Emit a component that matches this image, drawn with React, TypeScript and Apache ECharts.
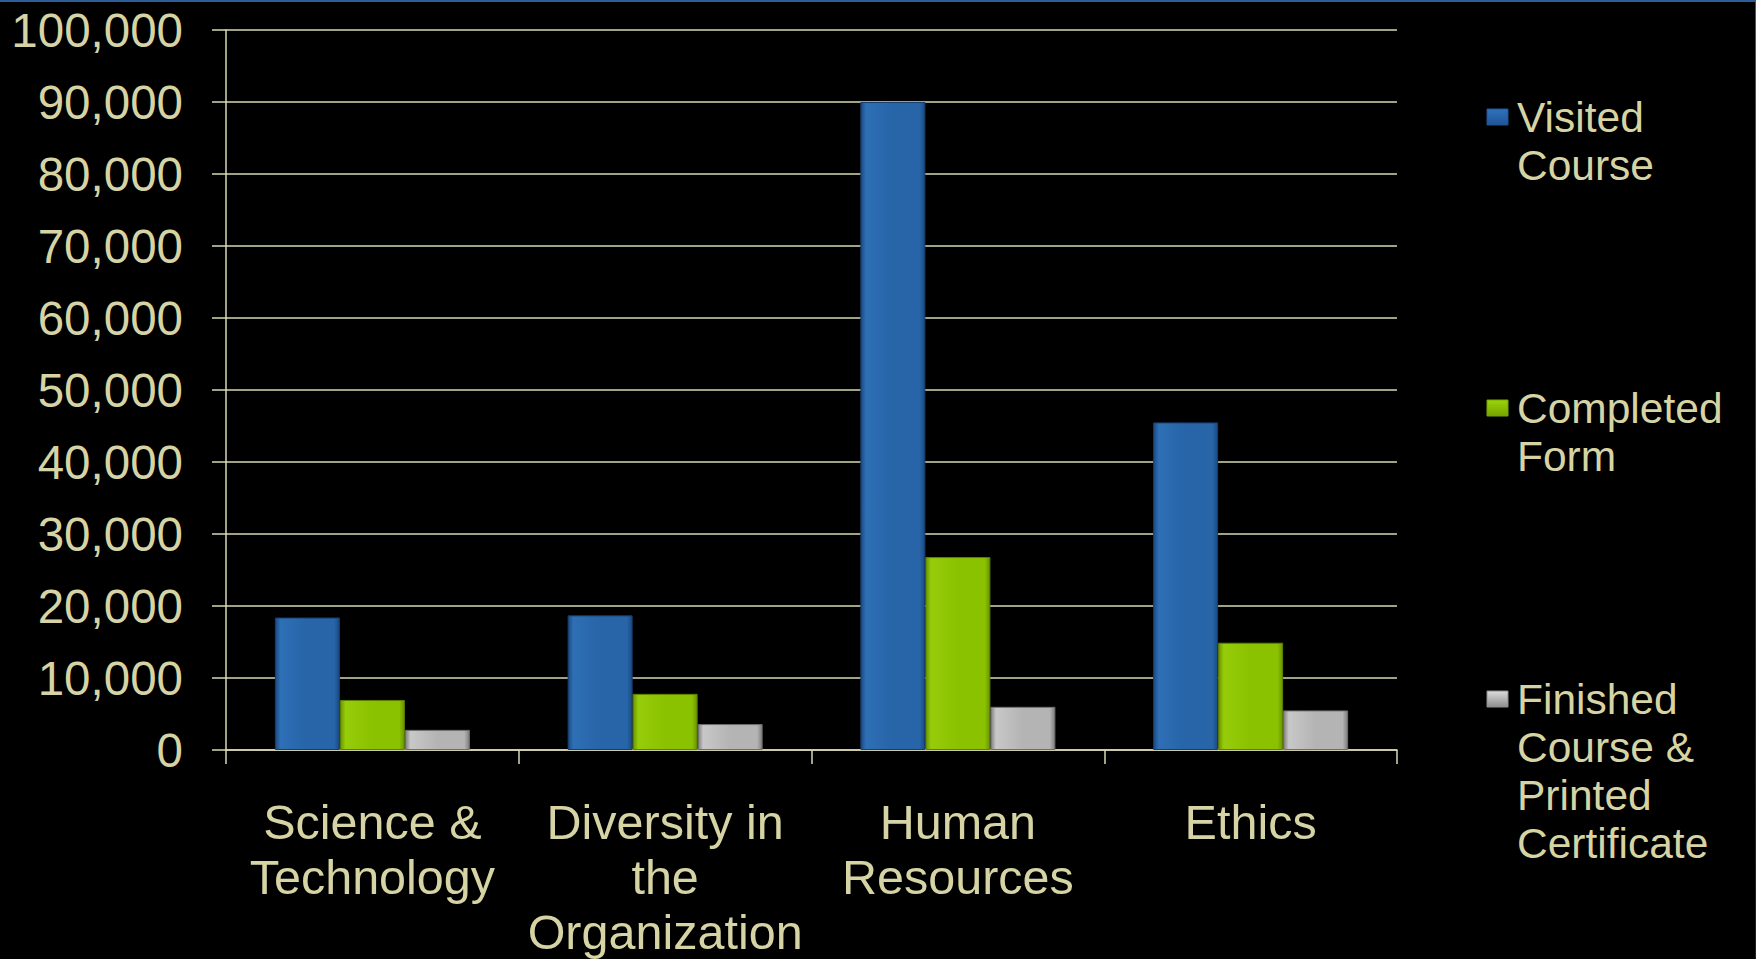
import React, { useEffect, useRef } from 'react';
import * as echarts from 'echarts';

const categories = ['Science &\nTechnology', 'Diversity in\nthe\nOrganization', 'Human\nResources', 'Ethics'];
const seriesNames = ['Visited Course', 'Completed Form', 'Finished Course & Printed Certificate'];
const legendLabels = ['Visited\nCourse', 'Completed\nForm', 'Finished\nCourse &\nPrinted\nCertificate'];
const visitedCourse = [18400, 18700, 90000, 45500];
const completedForm = [6950, 7800, 26800, 14900];
const finishedCourse = [2800, 3600, 6000, 5500];
const yMin = 0;
const yMax = 100000;
const yInterval = 10000;

const TEXT = '#d6d4a4';
const GRID = '#d9d8b4';
const FONT = '"Liberation Sans", Arial, sans-serif';

function bevel(edge: string, mid: string, light: string) {
  return new echarts.graphic.LinearGradient(0, 0, 1, 0, [
    { offset: 0, color: edge },
    { offset: 0.08, color: light },
    { offset: 0.5, color: mid },
    { offset: 0.92, color: mid },
    { offset: 1, color: edge },
  ]);
}

const colors = [
  bevel('#1b4a82', '#2764a8', '#2e6fb5'),
  bevel('#6a9400', '#8bc200', '#96cc0a'),
  bevel('#7e7e7e', '#b4b4b4', '#c8c8c8'),
];
const borders = ['#173f6e', '#5c8000', '#6e6e6e'];
const legendIcon = [
  ['#2f72bc', '#1f5596'],
  ['#9ad40a', '#76a400'],
  ['#dcdcdc', '#8e8e8e'],
];

export default function App() {
  const ref = useRef<HTMLDivElement>(null);
  useEffect(() => {
    document.body.style.margin = '0';
    document.body.style.background = '#000';
    const chart = echarts.init(ref.current!, null, { renderer: 'svg' });
    const LH = 48;
    const iconCenters = [117, 408, 699];
    const legendGraphics: any[] = [];
    seriesNames.forEach((name, i) => {
      legendGraphics.push({
        type: 'rect',
        x: 1487,
        y: iconCenters[i] - 8,
        shape: { width: 21, height: 16 },
        style: {
          fill: new echarts.graphic.LinearGradient(0, 0, 0, 1, [
            { offset: 0, color: legendIcon[i][0] },
            { offset: 1, color: legendIcon[i][1] },
          ]),
          stroke: legendIcon[i][1],
          lineWidth: 1,
        },
      });
      legendGraphics.push({
        type: 'text',
        x: 1517,
        y: iconCenters[i] - LH / 2,
        style: {
          text: legendLabels[i],
          fill: TEXT,
          fontFamily: FONT,
          fontSize: 42.5,
          lineHeight: LH,
          verticalAlign: 'top',
          align: 'left',
        },
      });
    });
    const seriesData = [visitedCourse, completedForm, finishedCourse];
    chart.setOption({
      animation: false,
      backgroundColor: '#000',
      textStyle: { fontFamily: FONT },
      grid: { left: 226, right: 359, top: 30, bottom: 206.5, containLabel: false },
      xAxis: {
        type: 'category',
        data: categories,
        axisLine: { show: true, lineStyle: { color: GRID, width: 1.5 } },
        axisTick: { show: true, length: 14, lineStyle: { color: GRID, width: 1.5 } },
        axisLabel: {
          color: TEXT,
          fontFamily: FONT,
          fontSize: 48.5,
          lineHeight: 55,
          margin: 44,
          interval: 0,
        },
      },
      yAxis: {
        type: 'value',
        min: yMin,
        max: yMax,
        interval: yInterval,
        axisLine: { show: true, lineStyle: { color: GRID, width: 1.5 } },
        axisTick: { show: true, length: 14, inside: false, lineStyle: { color: GRID, width: 1.5 } },
        splitLine: { show: true, lineStyle: { color: GRID, width: 1.5 } },
        axisLabel: {
          color: TEXT,
          fontFamily: FONT,
          fontSize: 47.5,
          margin: 43,
          formatter: (v: number) => v.toLocaleString('en-US'),
        },
      },
      series: seriesNames.map((name, i) => ({
        name,
        type: 'bar',
        data: seriesData[i],
        barWidth: 65,
        barGap: '0%',
        itemStyle: { color: colors[i], borderColor: borders[i], borderWidth: 1 },
      })),
      graphic: [
        ...legendGraphics,
        { type: 'rect', x: 0, y: 0, shape: { width: 1756, height: 2 }, style: { fill: '#2e5e98' }, z: 100 },
        {
          type: 'rect', x: 1755, y: 0, shape: { width: 1, height: 959 },
          style: {
            fill: new echarts.graphic.LinearGradient(0, 0, 0, 1, [
              { offset: 0, color: '#2e5e98' },
              { offset: 1, color: '#10243c' },
            ]),
          },
          z: 100,
        },
      ],
    });
    return () => chart.dispose();
  }, []);
  return <div ref={ref} style={{ width: 1756, height: 959, background: '#000' }} />;
}
